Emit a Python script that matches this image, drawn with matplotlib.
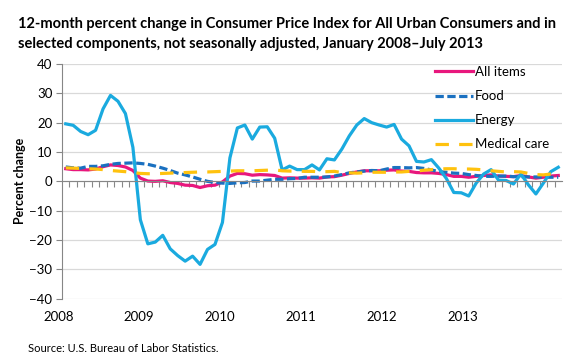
import matplotlib.pyplot as plt
from matplotlib.transforms import blended_transform_factory

plt.rcParams['font.family'] = ['Lato', 'DejaVu Sans']

# 12-month percent change, Jan 2008 - Jul 2013 (monthly)
years = ['2008', '2009', '2010', '2011', '2012', '2013']

all_items = [4.3, 4.0, 4.0, 3.9, 4.2, 5.0, 5.6, 5.4, 4.9, 3.7, 1.1, 0.1,
             0.0, 0.2, -0.4, -0.7, -1.3, -1.4, -2.1, -1.5, -1.3, -0.2, 1.8, 2.7,
             2.6, 2.1, 2.3, 2.2, 2.0, 1.1, 1.2, 1.1, 1.1, 1.2, 1.1, 1.5,
             1.6, 2.1, 2.7, 3.2, 3.6, 3.6, 3.6, 3.8, 3.9, 3.5, 3.4, 3.0,
             2.9, 2.9, 2.7, 2.3, 1.7, 1.7, 1.4, 1.7, 2.0, 2.2, 1.8, 1.7,
             1.6, 2.0, 1.5, 1.1, 1.4, 1.8, 2.0]

food = [4.9, 4.6, 4.5, 5.1, 5.1, 5.3, 5.8, 6.1, 6.2, 6.3, 6.1, 5.8,
        5.2, 4.5, 3.7, 2.8, 2.2, 1.5, 0.7, 0.0, -0.4, -0.6, -0.7, -0.5,
        -0.4, 0.1, 0.1, 0.4, 0.7, 0.7, 0.9, 1.0, 1.4, 1.4, 1.4, 1.5,
        1.8, 2.3, 2.9, 3.2, 3.5, 3.7, 3.6, 4.2, 4.7, 4.7, 4.6, 4.7,
        4.4, 3.9, 3.3, 3.1, 2.8, 2.7, 2.3, 2.0, 1.7, 1.7, 1.8, 1.8,
        1.6, 1.6, 1.5, 1.5, 1.4, 1.4, 1.4]

energy = [19.6, 19.1, 17.0, 15.9, 17.4, 24.7, 29.3, 27.3, 23.1, 11.6, -13.1, -21.3,
          -20.7, -18.4, -23.0, -25.3, -27.2, -25.5, -28.3, -23.2, -21.5, -14.0, 8.0, 18.2,
          19.2, 14.4, 18.5, 18.6, 14.7, 3.9, 5.2, 4.0, 4.0, 5.6, 3.9, 7.7,
          7.3, 11.0, 15.5, 19.2, 21.4, 20.0, 19.2, 18.5, 19.4, 14.4, 12.1, 6.8,
          6.6, 7.4, 4.5, 1.0, -3.8, -3.9, -5.0, -0.6, 2.5, 4.0, 0.4, 0.3,
          -0.9, 2.5, -1.2, -4.3, -0.6, 3.3, 4.8]

medical = [4.6, 4.5, 4.4, 4.3, 4.2, 4.0, 3.7, 3.5, 3.3, 3.0, 2.7, 2.6,
           2.6, 2.7, 2.8, 2.9, 3.0, 3.1, 3.2, 3.2, 3.3, 3.4, 3.5, 3.6,
           3.6, 3.6, 3.7, 3.8, 3.9, 3.6, 3.5, 3.5, 3.4, 3.4, 3.3, 3.3,
           3.4, 3.0, 2.9, 2.8, 2.9, 3.1, 3.1, 3.1, 3.2, 3.2, 3.4, 3.5,
           3.8, 4.0, 4.2, 4.3, 4.3, 4.2, 4.2, 4.1, 3.9, 3.6, 3.4, 3.2,
           3.3, 3.2, 2.7, 2.3, 2.2, 2.5, 2.5]

months = range(len(all_items))

fig = plt.figure(figsize=(5.8, 3.6), dpi=100)
ax = fig.add_axes([62 / 580, 1 - 298.7 / 360, 500 / 580, (298.7 - 64) / 360])

ax.plot(months, all_items, color='#e8177d', lw=2.3, label='All items')
ax.plot(months, food, color='#1a70c0', lw=2.3, dashes=(2.6, 1.1), label='Food')
ax.plot(months, energy, color='#1aaadf', lw=2.3, label='Energy')
ax.plot(months, medical, color='#ffc20e', lw=2.3, dashes=(4.2, 3.2), label='Medical care')

ax.set_xlim(-0.5, len(all_items) - 0.5)
ax.set_ylim(-40, 40)
ax.set_yticks(range(-40, 41, 10))
ax.grid(axis='y', color='#d9d9d9', lw=0.9)
ax.set_axisbelow(True)

for s in ['top', 'right']:
    ax.spines[s].set_visible(False)
ax.spines['left'].set_color('#868686')
ax.spines['bottom'].set_position(('data', 0))
ax.spines['bottom'].set_color('#868686')
ax.set_xticks([m + 0.5 for m in months][:-1])
ax.tick_params(axis='x', length=4, color='#868686', labelbottom=False)
ax.tick_params(axis='y', length=4, color='#868686', labelsize=9.5, pad=3)

# year labels sit roughly every 10.8 months, as in the original
trans = blended_transform_factory(ax.transData, ax.transAxes)
for k, y in enumerate(years):
    ax.text(-1.0 + k * 10.84, -0.08, y, transform=trans, ha='center', va='center', fontsize=9.5)

ax.set_ylabel('Percent change', fontsize=9, fontweight='bold', labelpad=2)

ax.legend(loc='upper left', bbox_to_anchor=(0.735, 1.014), frameon=False, fontsize=9.5,
          handlelength=2.9, handletextpad=0.15, labelspacing=0.92, borderaxespad=0)

fig.text(18 / 580, 1 - 24 / 360, '12-month percent change in Consumer Price Index for All Urban Consumers and in',
         fontsize=10.5, fontweight='bold', va='center')
fig.text(18 / 580, 1 - 44 / 360, 'selected components, not seasonally adjusted, January 2008\u2013July 2013',
         fontsize=10.5, fontweight='bold', va='center')
fig.text(28 / 580, 1 - 348 / 360, 'Source: U.S. Bureau of Labor Statistics.', fontsize=8, va='center')

fig.savefig('out.png', dpi=100)
